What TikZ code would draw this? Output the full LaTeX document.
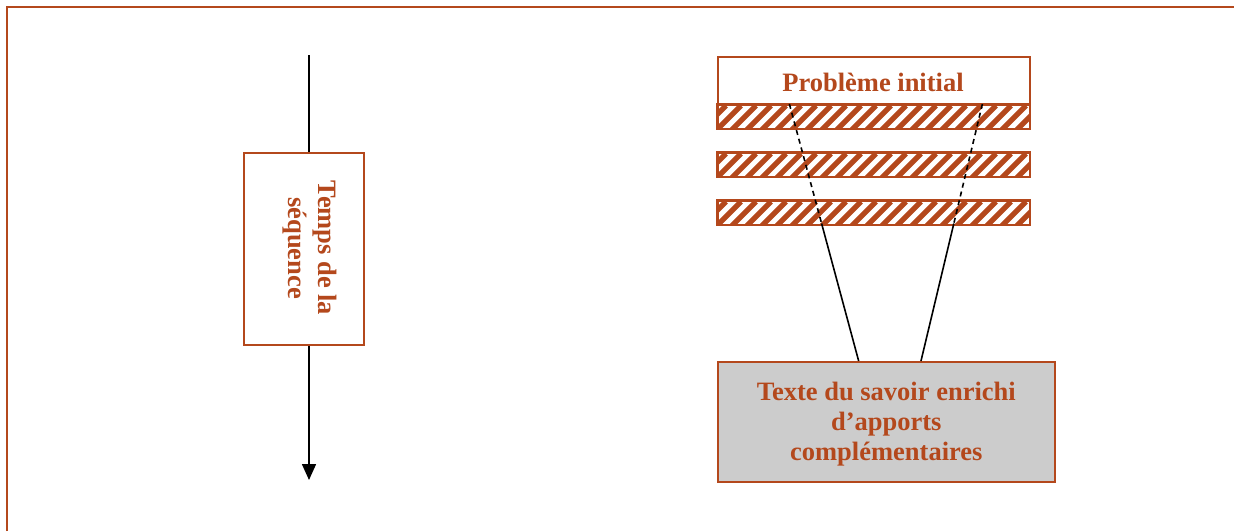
\documentclass[tikz,border=0pt]{standalone}
\usepackage{fontspec}
\setmainfont{Liberation Serif}
\usetikzlibrary{arrows.meta,calc}
\definecolor{brn}{RGB}{180,72,28}
\definecolor{gry}{RGB}{204,204,204}
\begin{document}
\begin{tikzpicture}[x=1pt,y=-1pt,
  lbl/.style={font=\bfseries\fontsize{26.5}{30}\selectfont, text=brn, align=center, inner sep=0pt},
  boxst/.style={draw=brn, line width=1.6pt, inner sep=0pt, anchor=north west},
  bar/.style={boxst, minimum width=312pt, minimum height=24pt},
  conn/.style={black, line width=1.6pt},
  dconn/.style={conn, dash pattern=on 5pt off 4pt}]
\useasboundingbox (0,0) rectangle (1234,531);
% frame
\draw[brn, line width=2.5pt] (7,531) -- (7,7) -- (1234,7);
% left: time arrow
\node[boxst, fill=white, minimum width=120pt, minimum height=192pt] (tbox) at (243,152) {};
\node[lbl, rotate=-90] (tlbl) at (309.5,248) {Temps de la\\séquence};
\coordinate (ttop) at (309,55);
\coordinate (tbot) at (309,480);
\draw[conn] (ttop) -- (ttop |- tbox.north);
\draw[conn, -{Triangle[width=14pt,length=16pt]}] (tbot |- tbox.south) -- (tbot);
% right: problem box
\node[boxst, fill=white, minimum width=312pt, minimum height=48pt] (pbox) at (717,56) {};
\node[lbl] (plbl) at (873,82) {Problème initial};
\foreach \n/\yt in {b1/104, b2/152, b3/200} {
  \node[bar] (\n) at (717,\yt) {};
  \begin{scope}
    \clip (\n.south west) rectangle (\n.north east);
    \foreach \k in {-2,...,21}
      \draw[brn, line width=5.3pt] ($(\n.south west)+(\k*15,0)$) -- ++(24,-24);
  \end{scope}
  \draw[brn, line width=1.6pt] (\n.south west) rectangle (\n.north east);
}
% bottom box
\node[boxst, fill=gry, minimum width=337pt, minimum height=120pt] (sbox) at (717,361) {};
\node[lbl] (slbl) at ($(sbox.center)+(0,2)$) {Texte du savoir enrichi\\d’apports\\complémentaires};
% connectors
\coordinate (L1) at ($(b1.north west)!0.2308!(b1.north east)$);
\coordinate (L2) at ($(sbox.north west)!0.4184!(sbox.north east)$);
\coordinate (R1) at ($(b1.north west)!0.8462!(b1.north east)$);
\coordinate (R2) at ($(sbox.north west)!0.6024!(sbox.north east)$);
\coordinate (L3) at ($(L1)!0.465!(L2)$);
\coordinate (R3) at ($(R1)!0.465!(R2)$);
\draw[dconn] (L1) -- (L3);
\draw[conn] (L3) -- (L2);
\draw[dconn] (R1) -- (R3);
\draw[conn] (R3) -- (R2);
\end{tikzpicture}
\end{document}
